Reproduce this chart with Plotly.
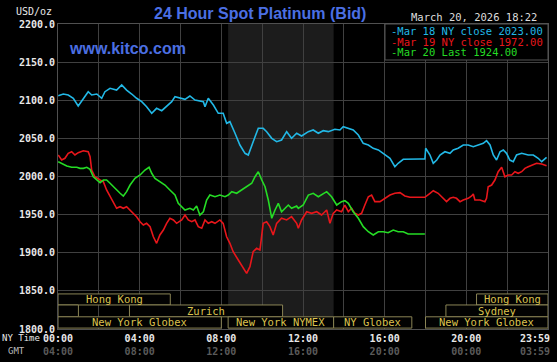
import plotly.graph_objects as go

# ---------------- data (hours since 00:00 NY time, USD/oz) ----------------
mar18_hours = [0.01, 0.26, 0.50, 0.75, 0.99, 1.24, 1.48, 1.65, 1.90, 2.14, 2.30, 2.55, 2.87, 3.12,
               3.36, 3.61, 3.85, 4.10, 4.34, 4.59, 4.83, 5.08, 5.32, 5.57, 5.73, 6.22, 6.46, 6.71,
               7.12, 7.20, 7.36, 7.61, 7.85, 8.09, 8.26, 8.42, 8.67, 8.91, 9.16, 9.32, 9.56, 9.81,
               10.05, 10.22, 10.47, 10.71, 10.95, 11.20, 11.44, 11.69, 11.93, 12.26, 12.50, 12.75,
               12.99, 13.24, 13.56, 13.81, 13.97, 14.22, 14.46, 14.71, 14.95, 15.20, 15.44, 15.69,
               15.93, 16.26, 16.50, 16.66, 16.91, 17.15, 17.73, 17.97, 18.01, 18.22, 18.38, 18.55,
               18.71, 18.95, 19.20, 19.36, 19.60, 19.85, 20.09, 20.34, 20.58, 20.83, 20.99, 21.16,
               21.32, 21.48, 21.65, 21.81, 21.97, 22.13, 22.30, 22.46, 22.71, 23.03, 23.28, 23.52,
               23.69, 23.93]
mar18_values = [2106.0, 2108.2, 2106.9, 2102.6, 2092.5, 2102.6, 2111.2, 2106.9, 2108.2, 2102.6,
                2111.2, 2115.7, 2113.4, 2120.0, 2113.4, 2108.2, 2102.6, 2098.1, 2091.5, 2082.9,
                2089.4, 2086.3, 2091.5, 2098.1, 2104.7, 2101.2, 2105.6, 2100.3, 2098.1, 2091.5,
                2102.6, 2093.8, 2082.9, 2082.9, 2069.8, 2071.9, 2056.7, 2041.3, 2030.4, 2028.2,
                2045.6, 2063.2, 2063.2, 2058.8, 2050.1, 2045.6, 2047.9, 2058.8, 2050.1, 2056.7,
                2053.1, 2058.8, 2061.0, 2056.7, 2060.1, 2058.8, 2061.9, 2061.0, 2065.3, 2063.2,
                2061.0, 2054.4, 2043.5, 2041.3, 2037.0, 2034.8, 2030.4, 2023.9, 2012.8, 2017.3,
                2022.6, 2023.0, 2023.0, 2023.0, 2037.0, 2028.2, 2017.3, 2021.6, 2028.2, 2032.5,
                2030.4, 2034.8, 2037.0, 2041.3, 2041.3, 2039.1, 2041.3, 2043.5, 2047.0, 2041.3,
                2028.2, 2021.6, 2032.5, 2034.8, 2030.4, 2021.6, 2019.4, 2028.2, 2030.4, 2028.2,
                2028.2, 2023.9, 2019.4, 2025.2]

mar19_hours = [0.01, 0.18, 0.34, 0.50, 0.67, 0.83, 0.99, 1.24, 1.48, 1.57, 1.65, 1.81, 2.06, 2.22,
               2.38, 2.55, 2.71, 2.87, 3.04, 3.20, 3.36, 3.53, 3.69, 3.85, 4.02, 4.18, 4.34, 4.51,
               4.67, 4.83, 4.99, 5.16, 5.32, 5.48, 5.65, 5.81, 6.06, 6.22, 6.38, 6.55, 6.71, 6.87,
               7.04, 7.20, 7.36, 7.53, 7.69, 7.93, 8.09, 8.26, 8.42, 8.58, 8.83, 9.00, 9.16, 9.24,
               9.40, 9.56, 9.73, 9.89, 10.05, 10.22, 10.38, 10.54, 10.71, 10.95, 11.20, 11.44,
               11.69, 11.77, 11.93, 12.18, 12.42, 12.67, 12.91, 13.16, 13.32, 13.48, 13.65, 13.89,
               14.05, 14.22, 14.38, 14.54, 14.71, 14.87, 15.03, 15.20, 15.36, 15.52, 15.77, 16.01,
               16.26, 16.50, 16.75, 16.99, 17.24, 17.73, 17.97, 18.22, 18.38, 18.62, 18.79, 19.03,
               19.20, 19.36, 19.52, 19.69, 19.85, 20.09, 20.26, 20.34, 20.42, 20.67, 20.91, 20.99,
               21.07, 21.24, 21.40, 21.56, 21.73, 21.89, 22.05, 22.22, 22.38, 22.54, 22.71, 22.87,
               23.03, 23.20, 23.44, 23.69, 23.93]
mar19_values = [2028.2, 2021.6, 2023.9, 2030.4, 2032.5, 2028.2, 2031.2, 2033.8, 2032.5, 2026.0,
                2008.5, 1999.7, 1995.4, 1993.2, 1982.3, 1973.5, 1964.8, 1958.3, 1960.4, 1958.3,
                1960.4, 1956.1, 1951.7, 1947.3, 1940.7, 1936.4, 1938.6, 1934.2, 1921.0, 1912.4,
                1923.3, 1929.8, 1938.6, 1945.2, 1943.0, 1938.6, 1943.0, 1949.5, 1943.0, 1940.7,
                1943.0, 1934.2, 1932.1, 1943.0, 1938.6, 1940.7, 1938.6, 1943.0, 1938.6, 1921.0,
                1912.4, 1901.4, 1890.5, 1883.9, 1877.4, 1873.0, 1881.7, 1901.4, 1905.8, 1903.6,
                1938.6, 1940.7, 1934.2, 1923.3, 1938.6, 1945.2, 1943.0, 1947.3, 1938.6, 1932.1,
                1943.0, 1953.8, 1951.7, 1953.8, 1949.5, 1956.1, 1938.6, 1951.7, 1956.1, 1953.8,
                1962.6, 1953.8, 1958.3, 1951.7, 1949.5, 1951.7, 1962.6, 1973.5, 1975.7, 1967.0,
                1967.0, 1971.4, 1975.7, 1978.0, 1978.8, 1974.4, 1972.7, 1972.7, 1972.7, 1978.0,
                1981.4, 1978.0, 1973.5, 1967.0, 1971.4, 1972.7, 1971.4, 1967.0, 1969.2, 1971.4,
                1974.4, 1977.0, 1969.2, 1969.2, 1967.0, 1971.4, 1986.6, 1988.8, 1995.4, 2006.3,
                2012.1, 1999.7, 2002.0, 2002.0, 2006.3, 2004.2, 2006.3, 2010.7, 2012.8, 2015.1,
                2017.3, 2016.4, 2014.2]

mar20_hours = [0.01, 0.18, 0.43, 0.67, 0.92, 1.08, 1.24, 1.41, 1.57, 1.73, 1.90, 2.06, 2.22, 2.38,
               2.55, 2.71, 2.87, 3.04, 3.20, 3.36, 3.53, 3.77, 4.02, 4.26, 4.46, 4.59, 4.75, 4.99,
               5.24, 5.48, 5.73, 5.89, 6.06, 6.22, 6.46, 6.63, 6.79, 6.95, 7.12, 7.28, 7.44, 7.69,
               7.93, 8.18, 8.34, 8.51, 8.75, 9.00, 9.24, 9.49, 9.65, 9.81, 9.98, 10.14, 10.30,
               10.47, 10.63, 10.79, 10.95, 11.12, 11.28, 11.44, 11.69, 11.77, 12.01, 12.26, 12.50,
               12.75, 12.91, 13.16, 13.40, 13.65, 13.89, 14.05, 14.22, 14.46, 14.71, 14.95, 15.20,
               15.44, 15.69, 15.93, 16.17, 16.42, 16.66, 16.91, 17.15, 17.73, 17.97]
mar20_values = [2019.4, 2017.3, 2013.8, 2012.1, 2012.1, 2010.7, 2010.7, 2012.1, 2009.4, 1999.7,
                1995.4, 1991.9, 1995.4, 1995.4, 1991.1, 1986.6, 1982.3, 1978.0, 1974.4, 1980.1,
                1988.8, 1997.6, 2002.0, 2008.5, 2012.1, 2004.2, 1997.6, 1993.2, 1988.8, 1982.3,
                1975.7, 1964.8, 1960.4, 1956.1, 1958.3, 1956.1, 1961.3, 1949.5, 1953.8, 1969.2,
                1975.7, 1973.5, 1975.7, 1973.5, 1975.7, 1980.1, 1978.0, 1982.3, 1986.6, 1991.1,
                1999.7, 2006.3, 1995.4, 1986.6, 1969.2, 1945.2, 1956.1, 1964.8, 1953.8, 1958.3,
                1962.6, 1958.3, 1961.3, 1958.3, 1962.6, 1975.7, 1978.0, 1973.5, 1975.7, 1980.1,
                1973.5, 1962.6, 1967.0, 1968.3, 1964.8, 1953.8, 1945.2, 1934.2, 1927.6, 1923.3,
                1927.6, 1927.6, 1926.3, 1929.8, 1927.6, 1927.6, 1924.6, 1924.6, 1924.6]

series_labels = ["Mar 18 NY close", "Mar 19 NY close", "Mar 20 Last"]
series_last = [2023.00, 1972.00, 1924.00]
series_colors = ["#22b8e6", "#e8161b", "#25dc25"]

y_ticks = [1800, 1850, 1900, 1950, 2000, 2050, 2100, 2150, 2200]
x_tick_hours = [0, 4, 8, 12, 16, 20, 23.983]
ny_time_labels = ["00:00", "04:00", "08:00", "12:00", "16:00", "20:00", "23:59"]
gmt_labels = ["04:00", "08:00", "12:00", "16:00", "20:00", "00:00", "03:59"]

# trading sessions: name, start hour, end hour, row (0 = top)
session_names = ["Hong Kong", "Hong Kong", "", "Zurich", "Sydney",
                 "New York Globex", "New York NYMEX", "NY Globex", "New York Globex"]
session_start = [0.0, 20.5, 0.0, 3.5, 19.0, 0.0, 8.333, 13.5, 18.0]
session_end = [5.5, 24.0, 1.0, 11.0, 24.0, 8.0, 13.5, 17.33, 24.0]
session_row = [0, 0, 1, 1, 1, 2, 2, 2, 2]

nymex_open, nymex_close = 8.333, 13.5

# ---------------- figure ----------------
W, H = 557, 362
ML, MR, MT, MB = 58, 9, 24, 33
PW, PH = W - ML - MR, H - MT - MB

def px_x(p):
    return (p - ML) / PW

def px_y(p):
    return (H - MB - p) / PH

fig = go.Figure()
series = [(mar18_hours, mar18_values), (mar19_hours, mar19_values), (mar20_hours, mar20_values)]
for (hx, hv), name, col in zip(series, series_labels, series_colors):
    fig.add_trace(go.Scatter(x=hx, y=hv, mode="lines", name=name,
                             line=dict(color=col, width=1.6), showlegend=False,
                             hoverinfo="skip"))

shapes = []
# NYMEX shaded session
shapes.append(dict(type="rect", xref="x", yref="paper", x0=nymex_open, x1=nymex_close,
                   y0=0, y1=1, fillcolor="#1c1c1c", line=dict(width=0), layer="below"))

row_bounds = [(1831.5, 1846.0), (1816.0, 1831.5), (1801.2, 1816.0)]
mono = "DejaVu Sans Mono"
annotations = []
for name, s, e, r in zip(session_names, session_start, session_end, session_row):
    y0, y1 = row_bounds[r]
    shapes.append(dict(type="rect", xref="x", yref="y", x0=s, x1=e, y0=y0, y1=y1,
                       fillcolor="#020202", line=dict(color="#8a8455", width=1), layer="above"))
    if name:
        annotations.append(dict(x=(s + e) / 2, y=(y0 + y1) / 2, xref="x", yref="y",
                                text=name, showarrow=False,
                                font=dict(family=mono, size=10.5, color="#dcc24e")))

# legend box
shapes.append(dict(type="rect", xref="paper", yref="paper", x0=px_x(385), x1=1.0,
                   y0=px_y(60), y1=1.0, fillcolor="#000000",
                   line=dict(color="#555555", width=1), layer="above"))
for i, (lab, last, col) in enumerate(zip(series_labels, series_last, series_colors)):
    annotations.append(dict(x=px_x(389), y=px_y(31 + i * 10.7), xref="paper", yref="paper",
                            xanchor="left", yanchor="middle", showarrow=False,
                            text=f"-{lab} {last:.2f}",
                            font=dict(family=mono, size=10.5, color=col)))

gmt_color = "#5a5a5a"
blue = "#4b6fe3"
annotations += [
    dict(x=px_x(260), y=px_y(13.5), xref="paper", yref="paper", showarrow=False,
         text="24 Hour Spot Platinum (Bid)", xanchor="center", yanchor="middle",
         font=dict(family="Liberation Sans", size=16, color=blue, weight="bold")),
    dict(x=px_x(67), y=px_y(49), xref="paper", yref="paper", showarrow=False,
         text="www.kitco.com", xanchor="left", yanchor="middle",
         font=dict(family="Liberation Sans", size=16, color=blue, weight="bold")),
    dict(x=px_x(539), y=px_y(17), xref="paper", yref="paper", showarrow=False,
         text="March 20, 2026 18:22", xanchor="right", yanchor="middle",
         font=dict(family=mono, size=10.5, color="#dddddd")),
    dict(x=px_x(54), y=px_y(11.5), xref="paper", yref="paper", showarrow=False,
         text="USD/oz", xanchor="right", yanchor="middle",
         font=dict(family=mono, size=10, color="#e8e8e8")),
    dict(x=px_x(20.5), y=px_y(338), xref="paper", yref="paper", showarrow=False,
         text="NY Time", xanchor="center", yanchor="middle",
         font=dict(family=mono, size=9, color="#e8e8e8")),
    dict(x=px_x(16.5), y=px_y(350.5), xref="paper", yref="paper", showarrow=False,
         text="GMT", xanchor="center", yanchor="middle",
         font=dict(family=mono, size=9, color="#bbbbbb")),
    # last time label sits inside the right edge (as in the original)
    dict(x=x_tick_hours[-1], y=0, xref="x", yref="paper", showarrow=False,
         xanchor="right", yanchor="top", align="right", xshift=4, yshift=-2,
         text=f"{ny_time_labels[-1]}<br><span style='color:{gmt_color}'>{gmt_labels[-1]}</span>",
         font=dict(family=mono, size=10, color="#e8e8e8", weight="bold")),
]

ticktext = [f"{a}<br><span style='color:{gmt_color}'>{b}</span>"
            for a, b in zip(ny_time_labels[:-1], gmt_labels[:-1])] + [""]

grid = "#404040"
fig.update_layout(
    width=W, height=H,
    margin=dict(l=ML, r=MR, t=MT, b=MB, pad=0, autoexpand=False),
    paper_bgcolor="#000000", plot_bgcolor="#000000",
    shapes=shapes, annotations=annotations,
    xaxis=dict(range=[0, 24], tickvals=x_tick_hours, ticktext=ticktext,
               showgrid=True, gridcolor=grid, gridwidth=1, zeroline=False,
               showline=True, linecolor="#505050", mirror=True, ticks="",
               automargin=False, ticklabeloverflow="allow",
               tickfont=dict(family=mono, size=10, color="#e8e8e8", weight="bold"),
               minor=dict(tickvals=[2, 6, 10, 14, 18, 22], showgrid=True,
                          gridcolor=grid, gridwidth=1, ticks=""),
               fixedrange=True),
    yaxis=dict(range=[1800, 2200], tickvals=y_ticks, tickformat=".1f",
               showgrid=True, gridcolor=grid, gridwidth=1, zeroline=False,
               showline=True, linecolor="#505050", mirror=True, ticks="",
               automargin=False,
               tickfont=dict(family=mono, size=10, color="#e8e8e8", weight="bold"),
               fixedrange=True),
    showlegend=False,
)

fig.write_html("out.html", config={"displayModeBar": False},
               post_script="document.body.style.margin='0';")
